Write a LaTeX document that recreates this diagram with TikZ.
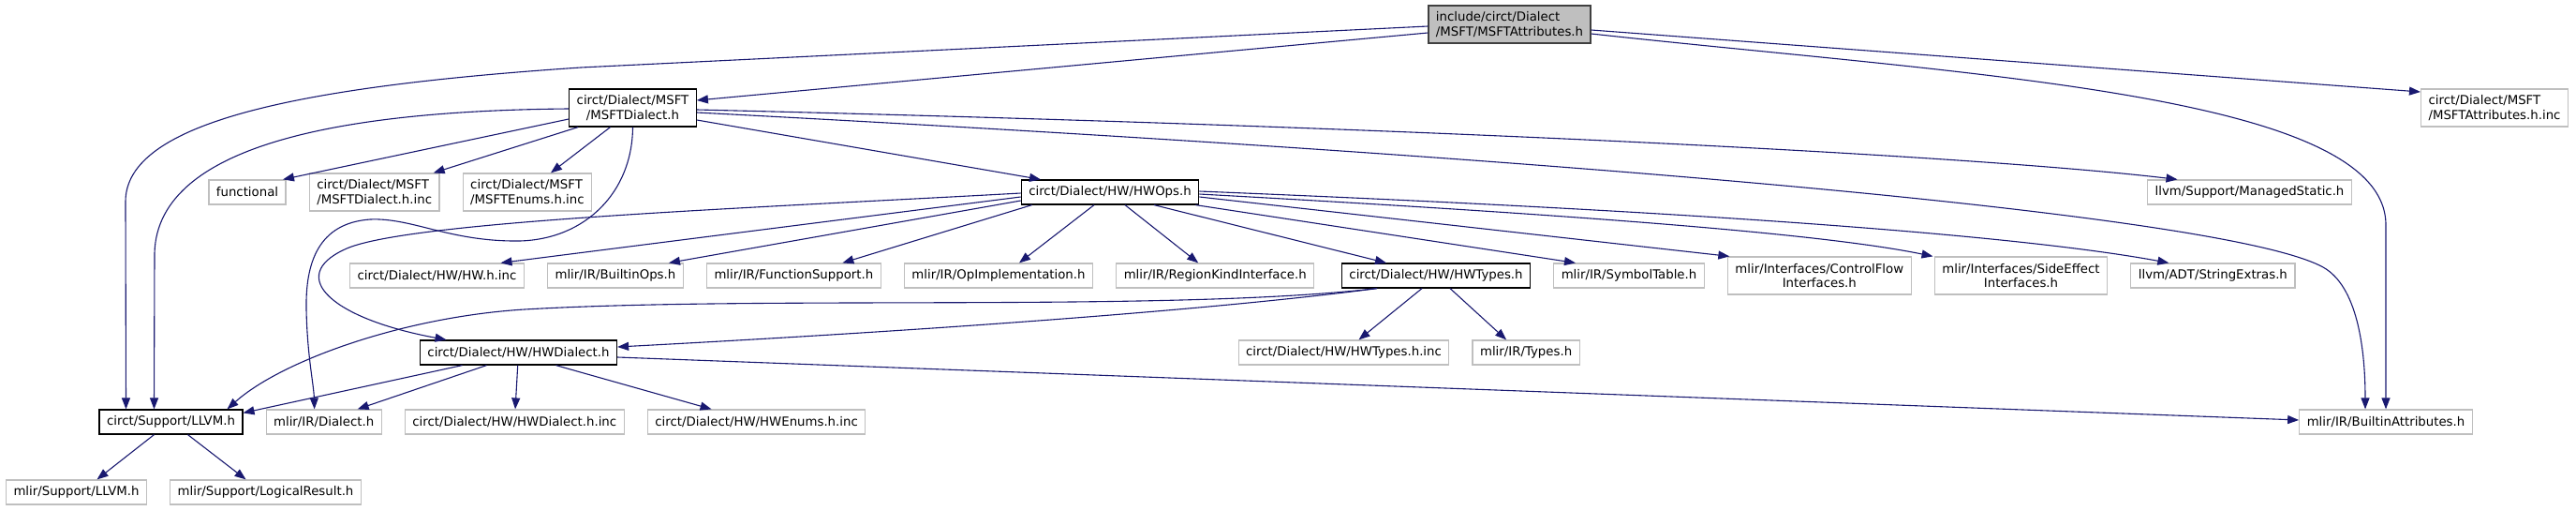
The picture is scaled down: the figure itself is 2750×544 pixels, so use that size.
\documentclass[tikz,border=0pt]{standalone}
\usepackage{fontspec}
\setmainfont{DejaVu Sans}
\usepackage{tikz}
\usetikzlibrary{arrows.meta, positioning}
\definecolor{edgeblue}{RGB}{25, 25, 112}
\definecolor{nodegray}{RGB}{191, 191, 191}
\definecolor{rootborder}{RGB}{64, 64, 64}
\newcommand{\graphfont}{\fontsize{13.3}{15.5}\selectfont}

\begin{document}
\begin{tikzpicture}[
    x=1pt, y=-1pt,
    node distance=24pt,
    file/.style={draw, line width=1.2pt, inner xsep=8pt, inner ysep=3pt, minimum height=26pt, align=center, font=\graphfont},
    extfile/.style={file, draw=nodegray},
    docfile/.style={file, draw=black},
    rootfile/.style={file, draw=rootborder, fill=nodegray},
    twoline/.style={minimum height=40pt},
    arrow/.style={-{Triangle[length=12pt, width=9pt]}, line width=1.1pt, color=edgeblue}
]
\useasboundingbox (0,0) rectangle (2750,544);

% Row 1
\node[rootfile, twoline, align=left] (root) at (1611.5,26) {include/circt/Dialect\\/MSFT/MSFTAttributes.h};

% Row 2
\node[docfile, twoline] (msftdialect) at (675.5,115) {circt/Dialect/MSFT\\/MSFTDialect.h};
\node[extfile, twoline, align=left] (attrinc) at (2663,115) {circt/Dialect/MSFT\\/MSFTAttributes.h.inc};

% Row 3
\node[extfile] (functional) at (264,205) {functional};
\node[extfile, twoline, align=left, right=of functional] (msftdialectinc) {circt/Dialect/MSFT\\/MSFTDialect.h.inc};
\node[extfile, twoline, align=left, right=of msftdialectinc] (msftenumsinc) {circt/Dialect/MSFT\\/MSFTEnums.h.inc};
\node[docfile] (hwops) at (1185,205) {circt/Dialect/HW/HWOps.h};
\node[extfile] (managedstatic) at (2401.5,205) {llvm/Support/ManagedStatic.h};

% Row 4
\node[extfile] (hwhinc) at (466.5,294) {circt/Dialect/HW/HW.h.inc};
\node[extfile, right=of hwhinc] (builtinops) {mlir/IR/BuiltinOps.h};
\node[extfile, right=of builtinops] (funcsupport) {mlir/IR/FunctionSupport.h};
\node[extfile, right=of funcsupport] (opimpl) {mlir/IR/OpImplementation.h};
\node[extfile, right=of opimpl] (regionkind) {mlir/IR/RegionKindInterface.h};
\node[docfile] (hwtypes) at (1533,294) {circt/Dialect/HW/HWTypes.h};
\node[extfile, right=of hwtypes] (symboltable) {mlir/IR/SymbolTable.h};
\node[extfile, twoline, right=of symboltable] (controlflow) {mlir/Interfaces/ControlFlow\\Interfaces.h};
\node[extfile, twoline, right=of controlflow] (sideeffect) {mlir/Interfaces/SideEffect\\Interfaces.h};
\node[extfile, right=of sideeffect] (stringextras) {llvm/ADT/StringExtras.h};

% Row 5
\node[docfile] (hwdialect) at (553.5,376) {circt/Dialect/HW/HWDialect.h};
\node[extfile] (hwtypesinc) at (1434.5,376) {circt/Dialect/HW/HWTypes.h.inc};
\node[extfile, right=of hwtypesinc] (typesh) {mlir/IR/Types.h};

% Row 6
\node[docfile] (llvm) at (182.5,450) {circt/Support/LLVM.h};
\node[extfile, right=of llvm] (dialect) {mlir/IR/Dialect.h};
\node[extfile, right=of dialect] (hwdialectinc) {circt/Dialect/HW/HWDialect.h.inc};
\node[extfile, right=of hwdialectinc] (hwenumsinc) {circt/Dialect/HW/HWEnums.h.inc};
\node[extfile] (builtinattrs) at (2547,450) {mlir/IR/BuiltinAttributes.h};

% Row 7
\node[extfile] (supllvm) at (81.5,525) {mlir/Support/LLVM.h};
\node[extfile, right=of supllvm] (logicalresult) {mlir/Support/LogicalResult.h};

% Arrows from the root
\draw[arrow] ([yshift=-9pt]root.west) -- ([yshift=8pt]msftdialect.east);
\draw[arrow] ([yshift=-2pt]root.west) -- (620,72) .. controls (320,92) and (134,130) .. (134,215) -- ([xshift=-48pt]llvm.north);
\draw[arrow] ([yshift=-6pt]root.east) -- ([yshift=17pt]attrinc.west);
\draw[arrow] ([yshift=-10pt]root.east) .. controls (2100,80) and (2547,100) .. (2547,240) -- (builtinattrs.north);

% Arrows from MSFTDialect.h
\draw[arrow] ([yshift=-1pt]msftdialect.west) .. controls (380,118) and (168,150) .. (165,270) -- ([xshift=-18pt]llvm.north);
\draw[arrow] ([yshift=-12pt]msftdialect.west) -- ([xshift=38pt]functional.north);
\draw[arrow] ([xshift=10pt]msftdialect.south west) -- ([xshift=63pt]msftdialectinc.north);
\draw[arrow] ([xshift=-24pt]msftdialect.south) -- ([xshift=25pt]msftenumsinc.north);
\draw[arrow] (msftdialect.south) .. controls (675,205) and (625,255) .. (555,257) .. controls (480,258) and (440,232) .. (395,234) .. controls (340,238) and (326,280) .. (327,330) .. controls (328,380) and (335,410) .. ([xshift=-10pt]dialect.north);
\draw[arrow] ([yshift=-13pt]msftdialect.east) -- ([xshift=-74pt]hwops.north);
\draw[arrow] ([yshift=-2pt]msftdialect.east) .. controls (1500,135) and (2100,165) .. ([xshift=-77pt]managedstatic.north);
\draw[arrow] ([yshift=-5pt]msftdialect.east) .. controls (1700,170) and (2380,230) .. (2480,285) .. controls (2516,305) and (2525,370) .. ([xshift=-22pt]builtinattrs.north);

% Arrows from HWOps.h
\draw[arrow] ([yshift=-5pt]hwops.west) -- ([xshift=68pt]hwhinc.north);
\draw[arrow] ([yshift=-9pt]hwops.west) -- ([xshift=57pt]builtinops.north);
\draw[arrow] ([xshift=12pt]hwops.south west) -- ([xshift=52pt]funcsupport.north);
\draw[arrow] ([xshift=-17pt]hwops.south) -- ([xshift=22pt]opimpl.north);
\draw[arrow] ([xshift=16pt]hwops.south) -- ([xshift=-18pt]regionkind.north);
\draw[arrow] ([xshift=47pt]hwops.south) -- ([xshift=-53pt]hwtypes.north);
\draw[arrow] ([xshift=-4pt]hwops.south east) -- ([xshift=-57pt]symboltable.north);
\draw[arrow] ([yshift=-5pt]hwops.east) -- ([xshift=-96pt]controlflow.north);
\draw[arrow] ([yshift=-2pt]hwops.east) .. controls (1700,230) and (1950,250) .. ([xshift=-94pt]sideeffect.north);
\draw[arrow] ([yshift=1pt]hwops.east) .. controls (1800,225) and (2150,250) .. ([xshift=-47pt]stringextras.north);
\draw[arrow] ([yshift=-1pt]hwops.west) .. controls (800,222) and (430,236) .. (368,266) .. controls (305,295) and (355,340) .. ([xshift=-77pt]hwdialect.north);

% Arrows from HWTypes.h
\draw[arrow] ([xshift=-15pt]hwtypes.south) -- ([xshift=16pt]hwtypesinc.north);
\draw[arrow] ([xshift=15pt]hwtypes.south) -- ([xshift=-21pt]typesh.north);
\draw[arrow] ([xshift=-63pt]hwtypes.south) .. controls (1300,330) and (1000,352) .. ([yshift=6pt]hwdialect.east);
\draw[arrow] ([xshift=-63pt]hwtypes.south) .. controls (1250,333) and (820,315) .. (560,330) .. controls (430,338) and (300,385) .. ([xshift=60pt]llvm.north);

% Arrows from HWDialect.h
\draw[arrow] ([xshift=-60pt]hwdialect.south) -- ([yshift=-4pt]llvm.north east);
\draw[arrow] ([xshift=-34pt]hwdialect.south) -- ([xshift=36pt]dialect.north);
\draw[arrow] (hwdialect) -- (hwdialectinc);
\draw[arrow] ([xshift=40pt]hwdialect.south) -- ([xshift=-48pt]hwenumsinc.north);
\draw[arrow] ([yshift=-5pt]hwdialect.east) -- ([yshift=2pt]builtinattrs.west);

% Arrows from LLVM.h
\draw[arrow] ([xshift=-18pt]llvm.south) -- ([xshift=22pt]supllvm.north);
\draw[arrow] ([xshift=18pt]llvm.south) -- ([xshift=-21pt]logicalresult.north);

\end{tikzpicture}
\end{document}
